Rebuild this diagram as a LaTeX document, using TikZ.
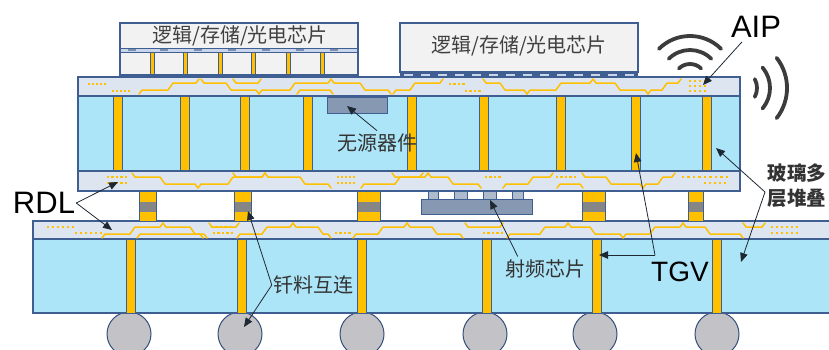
\documentclass[tikz,border=0pt]{standalone}
\usepackage{fontspec}
\setmainfont{Liberation Sans}
\newfontfamily\cjk{Noto Sans CJK SC}
\usetikzlibrary{arrows.meta}

\definecolor{glass}{HTML}{ADE5F8}
\definecolor{rdlfill}{HTML}{DDE5F1}
\definecolor{edge}{HTML}{3F5E92}
\definecolor{gold}{HTML}{FFC000}
\definecolor{chipfill}{HTML}{F2F2F3}
\definecolor{strip}{HTML}{C9D5EA}
\definecolor{die}{HTML}{8698B2}
\definecolor{pad}{HTML}{AEBBCD}
\definecolor{ball}{HTML}{C2C2C7}
\definecolor{solder}{HTML}{868686}
\definecolor{ink}{HTML}{1E2833}
\definecolor{wave}{HTML}{3C3C3C}
\definecolor{labelgray}{HTML}{333333}

\tikzset{
  glasscore/.style={fill=glass, draw=edge, line width=1.3pt},
  rdllayer/.style={fill=rdlfill, draw=edge, line width=1.3pt},
  via/.style={fill=gold, draw=edge, line width=0.5pt},
  trace/.style={draw=gold, line width=1.5pt, line join=round, line cap=round},
  chipbox/.style={fill=chipfill, draw=edge, line width=1.3pt},
  chipedge/.style={draw=edge, line width=1.3pt},
  diebox/.style={fill=die, draw=edge, line width=1pt},
  padbox/.style={fill=pad, draw=edge, line width=0.6pt},
  ballshape/.style={fill=ball, draw=edge!85!black, line width=1pt},
  callout/.style={draw=ink, line width=0.8pt, -{Triangle[length=9pt,width=7.5pt]}},
  cnlabel/.style={font=\cjk\fontsize{20}{25}\selectfont, text=labelgray, inner sep=0pt, align=center},
  cnbold/.style={font=\cjk\bfseries\fontsize{19.5}{25}\selectfont, text=labelgray, inner sep=0pt, align=center},
  latin/.style={font=\fontsize{31}{33}\selectfont, text=black, inner sep=0pt},
  waveline/.style={draw=wave, line width=3.8pt, line cap=round},
}

% low run, then a jog up to a high run (y0 = top of the RDL layer)
\newcommand\trackLH[4]{%
  \draw[trace] (#2-3,#1+17) -- (#2,#1+13) -- (#3,#1+13) -- (#3+5,#1+6) -- (#4,#1+6) -- (#4+3,#1+2);}
% high run, then a jog down to a low run
\newcommand\trackHL[4]{%
  \draw[trace] (#2-3,#1+2) -- (#2,#1+6) -- (#3,#1+6) -- (#3+5,#1+13) -- (#4,#1+13) -- (#4+3,#1+17);}
% straight run on the high level, hooked to the top edge at both ends
\newcommand\trackH[3]{%
  \draw[trace] (#2-3,#1+2) -- (#2,#1+6) -- (#3,#1+6) -- (#3+3,#1+2);}
% straight run on the low level, hooked to the bottom edge at both ends
\newcommand\trackL[3]{%
  \draw[trace] (#2-3,#1+17) -- (#2,#1+13) -- (#3,#1+13) -- (#3+3,#1+17);}
% a row of small pads: x, y, count, pitch
\newcommand\padrow[4]{%
  \foreach \k in {1,...,#3} \fill[gold] ({#1+(\k-1)*#4-1.2},{#2-1.2}) rectangle ++(2.4,2.4);}

\begin{document}
\begin{tikzpicture}[x=1pt,y=-1pt]
\useasboundingbox (0,0) rectangle (829,349);
\begin{scope}
\clip (0,0) rectangle (829,349);

% ---------- solder balls ----------
\foreach \x in {129,240,362,485,595,717}
  \draw[ballshape] (\x,334) circle[radius=22];

% ---------- lower glass substrate ----------
\draw[glasscore] (33,239) rectangle (840,313);
\foreach \x in {131,242,362,487,597,717}
  \draw[via] (\x-4.5,239) rectangle (\x+4.5,313);
\draw[rdllayer] (33,221) rectangle (840,239);
\padrow{48}{227}{6}{5}
\padrow{76}{233}{6}{5}
\trackLH{221}{105}{130}{160}
\trackL{221}{140}{200}
\trackHL{221}{166}{190}{204}
\padrow{212}{227}{5}{4.5}
\padrow{214}{233}{5}{4.5}
\trackLH{221}{240}{262}{290}
\trackH{221}{212}{236}
\trackHL{221}{296}{318}{328}
\padrow{336}{233}{4}{4.5}
\trackLH{221}{356}{378}{404}
\trackHL{221}{410}{432}{460}
\trackH{221}{468}{500}
\padrow{484}{233}{5}{4.5}
\trackLH{221}{510}{540}{565}
\trackHL{221}{571}{590}{620}
\trackLH{221}{626}{650}{680}
\trackHL{221}{686}{705}{740}
\trackH{221}{746}{762}
\padrow{772}{227}{6}{5}
\padrow{772}{233}{6}{5}

% ---------- interconnect bumps between the substrates ----------
\foreach \a/\b in {139/156, 234/251, 357/380, 582/605, 688/703} {
  \fill[gold] (\a,191) rectangle (\b,221);
  \fill[solder] (\a,202) rectangle (\b,212);
  \draw[edge, line width=0.7pt] (\a,191) rectangle (\b,221);
}

% ---------- RF die ----------
\foreach \a/\b in {428/438, 454/467, 483/496, 512/523}
  \draw[padbox] (\a,191) rectangle (\b,199);
\draw[diebox] (421,199) rectangle (532,214);

% ---------- upper glass substrate ----------
\draw[glasscore] (78,96) rectangle (740,171);
\foreach \x in {118,185,245,308,412,484,561,636,707}
  \draw[via] (\x-4.5,96) rectangle (\x+4.5,171);
\draw[diebox] (327,97) rectangle (387,113);

\draw[rdllayer] (78,77) rectangle (740,96);
\padrow{89}{84}{5}{4}
\padrow{113}{91}{5}{4}
\trackLH{77}{142}{168}{196}
\trackHL{77}{204}{226}{256}
\trackH{77}{236}{258}
\trackLH{77}{262}{290}{328}
\trackHL{77}{334}{360}{388}
\trackL{77}{300}{330}
\trackLH{77}{396}{410}{440}
\padrow{450}{84}{4}{4.5}
\padrow{466}{91}{4}{4.5}
\trackHL{77}{486}{500}{524}
\trackLH{77}{530}{556}{590}
\trackHL{77}{596}{615}{645}
\trackLH{77}{651}{662}{678}
\padrow{690}{81}{4}{5}
\padrow{690}{86}{4}{5}
\padrow{690}{91}{4}{5}

\draw[rdllayer] (78,171) rectangle (740,191);
\padrow{108}{177}{5}{4.5}
\padrow{108}{183}{5}{4.5}
\trackHL{171}{135}{160}{195}
\trackLH{171}{201}{228}{262}
\trackH{171}{236}{262}
\trackHL{171}{268}{300}{328}
\padrow{338}{177}{5}{4}
\padrow{338}{183}{5}{4}
\trackLH{171}{364}{395}{425}
\trackH{171}{395}{420}
\trackHL{171}{431}{448}{478}
\padrow{486}{177}{4}{4.5}
\trackLH{171}{506}{528}{550}
\padrow{557}{177}{5}{4.5}
\trackHL{171}{585}{606}{640}
\trackL{171}{560}{580}
\trackLH{171}{646}{658}{672}
\padrow{683}{177}{9}{5.5}
\padrow{705}{183}{5}{5}

% ---------- top dies ----------
\draw[chipbox] (120,23) rectangle (358,75);
\fill[strip] (120,48) rectangle (358,52);
\draw[edge, line width=0.9pt] (120,48) -- (358,48) (120,52) -- (358,52);
\foreach \x in {128,160,194,228,262,296,330}
  \fill[edge!70] (\x,49.3) rectangle ++(8,1.4);
\foreach \x in {152,185,220,253,288,322}
  \draw[fill=gold, draw=edge, line width=0.4pt] (\x-1.8,52) rectangle (\x+1.8,75);
\foreach \x in {124,140,158,174,192,208,226,242,260,276,294,310,328,344}
  \fill[edge!60] (\x,73.5) rectangle ++(8,1.8);
\draw[chipedge] (120,23) rectangle (358,75);

\draw[chipbox] (400,23) rectangle (638,72);
\fill[edge] (400,72) rectangle (638,77);
\foreach \x in {404,421,438,455,472,489,506,523,540,557,574,591,608,625}
  \fill[strip] (\x,73.5) rectangle ++(9,2);

% ---------- antenna radiation ----------
\draw[waveline] (690,80) ++(225:44) arc[start angle=225, end angle=315, radius=44];
\draw[waveline] (690,80) ++(225:30) arc[start angle=225, end angle=315, radius=30];
\draw[waveline] (690,80) ++(226:16) arc[start angle=226, end angle=314, radius=16];
\draw[waveline] (738,88) ++(-38:49) arc[start angle=-38, end angle=38, radius=49];
\draw[waveline] (738,88) ++(-40:32) arc[start angle=-40, end angle=40, radius=32];
\draw[waveline] (738,88) ++(-28:19) arc[start angle=-28, end angle=28, radius=19];
\end{scope}

% ---------- labels ----------
\node[cnlabel, text=black!75] (chipA) at (240,36) {逻辑/存储/光电芯片};
\node[cnlabel, text=black!75] (chipB) at (519,46) {逻辑/存储/光电芯片};
\node[latin] (aip) at (756,27) {AIP};
\node[latin] (rdl) at (44,203) {RDL};
\node[latin, font=\fontsize{28}{30}\selectfont] (tgv) at (680,272) {TGV};
\node[cnlabel] (passive) at (377,143) {无源器件};
\node[cnlabel] (solderlbl) at (313,285) {钎料互连};
\node[cnlabel] (rflbl) at (545,269) {射频芯片};
\node[cnbold] (stack) at (797,186) {玻璃多\\层堆叠};

% callout tips
\coordinate (aipT) at (703,85);
\coordinate (rdlT1) at (118,182);
\coordinate (rdlT2) at (112,230);
\coordinate (bumpT) at (248,211);
\coordinate (ballT) at (244,327);
\coordinate (rfT) at (490,200);
\coordinate (tgvJ) at (655,255);
\coordinate (tgvT1) at (636,153);
\coordinate (tgvT2) at (599,255);
\coordinate (stackJ) at (765,192);
\coordinate (stackT1) at (716,148);
\coordinate (stackT2) at (741,262);
\coordinate (passiveT) at (347,106);

% ---------- callouts ----------
\draw[callout] ([xshift=-14pt,yshift=-4pt]aip.south) -- (aipT);
\draw[callout] ([xshift=1pt]rdl.east) -- (rdlT1);
\draw[callout] ([xshift=1pt]rdl.east) -- (rdlT2);
\draw[callout] ([xshift=-1pt]solderlbl.west) -- (bumpT);
\draw[callout] ([xshift=-1pt]solderlbl.west) -- (ballT);
\draw[callout] ([xshift=13pt,yshift=3pt]rflbl.north west) -- (rfT);
\draw[callout] (tgvJ) -- (tgvT1);
\draw[callout] (tgvJ) -- (tgvT2);
\draw[callout] (stackJ) -- (stackT1);
\draw[callout] (stackJ) -- (stackT2);
\draw[callout] ([yshift=3pt]passive.north) -- (passiveT);
\end{tikzpicture}
\end{document}
